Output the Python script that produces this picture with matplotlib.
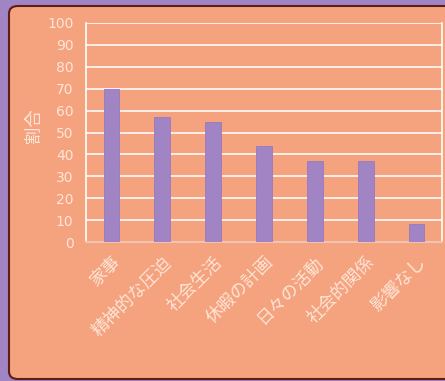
import matplotlib
matplotlib.use("Agg")
import matplotlib.pyplot as plt
from matplotlib.patches import FancyBboxPatch

plt.rcParams['font.family'] = ['Noto Sans CJK JP', 'DejaVu Sans']

categories = ['家事', '精神的な圧迫', '社会生活', '休暇の計画', '日々の活動', '社会的関係', '影響なし']
values = [70, 57, 55, 44, 37, 37, 8]
yticks = list(range(0, 101, 10))
ylabel = '割合'

purple = '#a084c4'
salmon = '#f5a27e'
light = '#fde6d8'

fig = plt.figure(figsize=(4.45, 3.81), dpi=100, facecolor=purple)
W, H = 445, 381

# rounded salmon panel behind the axes
panel = FancyBboxPatch((9 / W, 2 / H), 1.0, 1 - 8 / H,
                       boxstyle='round,pad=0,rounding_size=0.02',
                       transform=fig.transFigure, facecolor=salmon,
                       edgecolor='#5c1f12', linewidth=1.5, zorder=-10)
fig.patches.append(panel)

ax = fig.add_axes([86 / W, 1 - 242 / H, 356 / W, 219 / H])
ax.set_facecolor(salmon)
x = range(len(categories))
ax.bar(x, values, width=0.31, color=purple, edgecolor='#9a78c0', linewidth=0.6, zorder=3)
ax.set_xlim(-0.5, len(categories) - 0.5)
ax.set_ylim(0, 100)
ax.set_yticks(yticks)
ax.set_yticklabels([str(t) for t in yticks], family='DejaVu Sans')
ax.yaxis.grid(True, color='white', linewidth=1.3, alpha=0.9, zorder=1)
ax.set_axisbelow(True)
ax.tick_params(axis='y', length=0, pad=9, colors=light, labelsize=10)
ax.tick_params(axis='x', length=0, pad=8, colors=light, labelsize=12.5)
ax.set_xticks(list(x))
ax.set_xticklabels(categories, rotation=45, ha='right', rotation_mode='anchor')
for s in ['left', 'right', 'top']:
    ax.spines[s].set_color('white')
    ax.spines[s].set_linewidth(1.2)
ax.spines['top'].set_visible(False)
ax.spines['bottom'].set_color('#f0c4b0')
ax.spines['bottom'].set_linewidth(1.5)
ax.set_ylabel(ylabel, color=light, fontsize=12.5)
ax.yaxis.set_label_coords(-0.12, 0.53)

fig.savefig('out.png', dpi=100, facecolor=purple)
